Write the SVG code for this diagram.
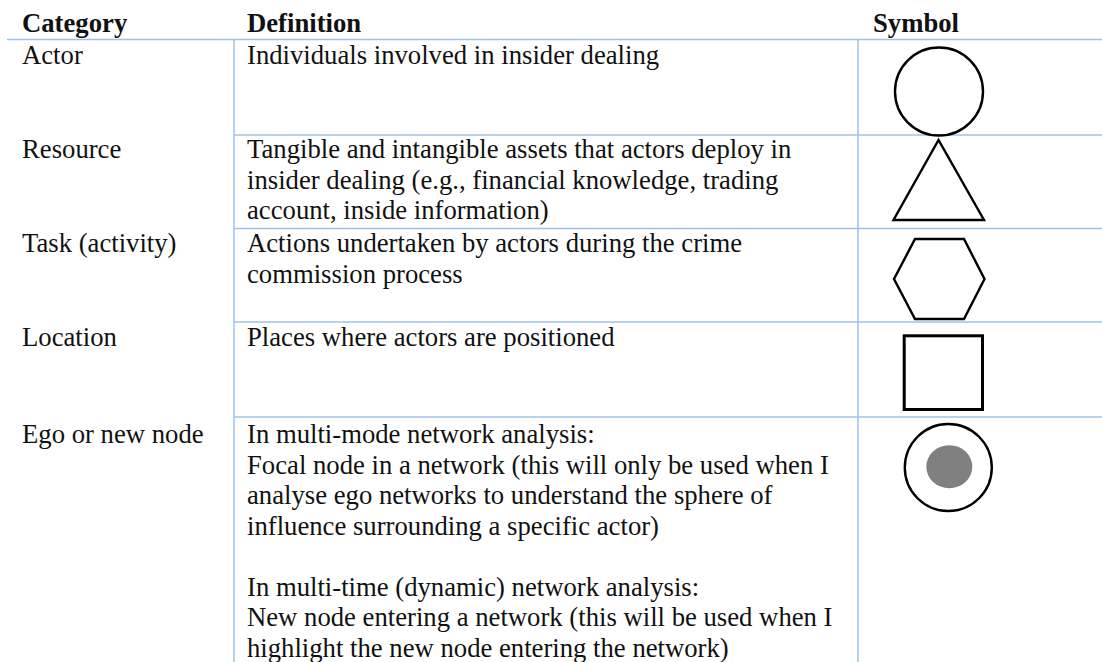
<svg xmlns="http://www.w3.org/2000/svg" width="1102" height="662" viewBox="0 0 1102 662">
  <style>
    .grid { stroke: #9fc3e7; stroke-width: 1.5; fill: none; }
    .txt text { font-size: 26.7px; fill: #111; }
    .head { font-weight: bold; }
    .sym { fill: none; stroke: #000; stroke-width: 2.4; }
  </style>
  <rect width="1102" height="662" fill="#fff"/>

  <!-- table rules -->
  <g id="rules" class="grid">
    <line x1="7" y1="39.5" x2="1102" y2="39.5"/>
    <line x1="234" y1="39.5" x2="234" y2="662"/>
    <line x1="858" y1="39.5" x2="858" y2="662"/>
    <line x1="234" y1="135" x2="1102" y2="135"/>
    <line x1="234" y1="228.5" x2="1102" y2="228.5"/>
    <line x1="234" y1="322" x2="1102" y2="322"/>
    <line x1="234" y1="417" x2="1102" y2="417"/>
  </g>

  <g class="txt" font-family="'Liberation Serif', 'Times New Roman', serif">
    <!-- column headings -->
    <g id="header">
      <text class="head" x="22" y="31.5">Category</text>
      <text class="head" x="247" y="31.5">Definition</text>
      <text class="head" x="873" y="31.5">Symbol</text>
    </g>

    <g id="row-actor">
      <text x="22" y="64">Actor</text>
      <text x="247" y="64">Individuals involved in insider dealing</text>
    </g>

    <g id="row-resource">
      <text x="22" y="158">Resource</text>
      <text x="247" y="158">Tangible and intangible assets that actors deploy in</text>
      <text x="247" y="188.5">insider dealing (e.g., financial knowledge, trading</text>
      <text x="247" y="219">account, inside information)</text>
    </g>

    <g id="row-task">
      <text x="22" y="252">Task (activity)</text>
      <text x="247" y="252">Actions undertaken by actors during the crime</text>
      <text x="247" y="282.5">commission process</text>
    </g>

    <g id="row-location">
      <text x="22" y="345.5">Location</text>
      <text x="247" y="345.5">Places where actors are positioned</text>
    </g>

    <g id="row-ego">
      <text x="22" y="443">Ego or new node</text>
      <text x="247" y="443">In multi-mode network analysis:</text>
      <text x="247" y="473.5">Focal node in a network (this will only be used when I</text>
      <text x="247" y="504">analyse ego networks to understand the sphere of</text>
      <text x="247" y="534.5">influence surrounding a specific actor)</text>
      <text x="247" y="595.5">In multi-time (dynamic) network analysis:</text>
      <text x="247" y="626">New node entering a network (this will be used when I</text>
      <text x="247" y="656.5">highlight the new node entering the network)</text>
    </g>
  </g>

  <!-- symbol column -->
  <g id="symbols">
    <circle id="sym-actor" class="sym" cx="939" cy="91.5" r="44"/>
    <polygon id="sym-resource" class="sym" points="938.5,140 893.5,220 984,220"/>
    <polygon id="sym-task" class="sym" points="894,279 915,239 964,239 984.5,279 964,319 915,319"/>
    <rect id="sym-location" class="sym" x="904.2" y="335.8" width="78.3" height="73.7" style="stroke-width:3"/>
    <g id="sym-ego">
      <circle class="sym" cx="948.3" cy="467.5" r="43.5"/>
      <ellipse cx="949.3" cy="466.7" rx="23" ry="21.5" fill="#808080"/>
    </g>
  </g>
</svg>
